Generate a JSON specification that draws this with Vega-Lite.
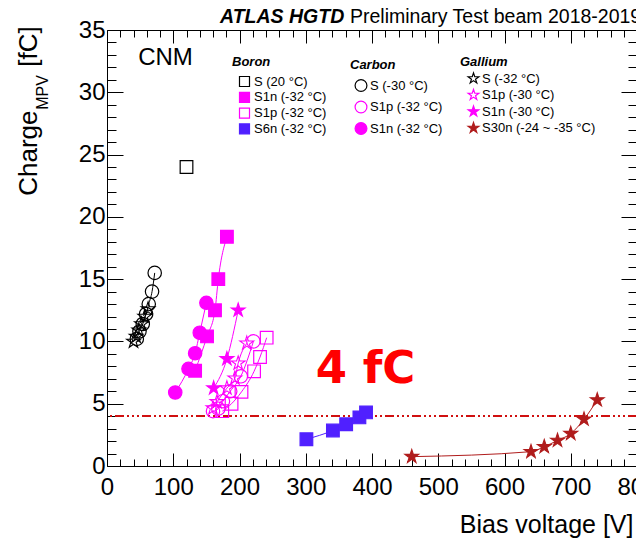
{
  "$schema": "https://vega.github.io/schema/vega-lite/v6.json",
  "width": 530,
  "height": 436,
  "autosize": "none",
  "padding": {"left": 107, "top": 30, "right": 0, "bottom": 73},
  "background": "white",
  "config": {
    "view": {"stroke": null},
    "font": "Liberation Sans",
    "axis": {"labelFont": "Liberation Sans", "titleFont": "Liberation Sans", "labelColor": "black", "titleColor": "black", "domainColor": "black", "tickColor": "black", "domainWidth": 1, "tickWidth": 1, "grid": false, "labelFlush": false, "labelOverlap": false},
    "legend": {"labelFont": "Liberation Sans", "labelFontSize": 13, "labelColor": "black", "titleFont": "Liberation Sans", "titleFontSize": 13, "titleFontStyle": "italic", "titleFontWeight": "bold", "titleColor": "black", "padding": 0, "labelLimit": 300, "symbolStrokeWidth": 1.2, "direction": "vertical"}
  },
  "datasets": {
    "pts": [
      {"mat": "Boron", "series": "S (20 °C)", "v": 120, "q": 24.0},
      {"mat": "Boron", "series": "S1n (-32 °C)", "v": 133, "q": 7.65},
      {"mat": "Boron", "series": "S1n (-32 °C)", "v": 151, "q": 10.4},
      {"mat": "Boron", "series": "S1n (-32 °C)", "v": 163, "q": 12.5},
      {"mat": "Boron", "series": "S1n (-32 °C)", "v": 168, "q": 15.0},
      {"mat": "Boron", "series": "S1n (-32 °C)", "v": 181, "q": 18.4},
      {"mat": "Boron", "series": "S1p (-32 °C)", "v": 174, "q": 4.4},
      {"mat": "Boron", "series": "S1p (-32 °C)", "v": 188, "q": 5.0},
      {"mat": "Boron", "series": "S1p (-32 °C)", "v": 203, "q": 5.95},
      {"mat": "Boron", "series": "S1p (-32 °C)", "v": 222, "q": 7.6},
      {"mat": "Boron", "series": "S1p (-32 °C)", "v": 231, "q": 8.75},
      {"mat": "Boron", "series": "S1p (-32 °C)", "v": 241, "q": 10.3},
      {"mat": "Boron", "series": "S6n (-32 °C)", "v": 301, "q": 2.15},
      {"mat": "Boron", "series": "S6n (-32 °C)", "v": 341, "q": 2.85},
      {"mat": "Boron", "series": "S6n (-32 °C)", "v": 361, "q": 3.35},
      {"mat": "Boron", "series": "S6n (-32 °C)", "v": 381, "q": 3.9},
      {"mat": "Boron", "series": "S6n (-32 °C)", "v": 391, "q": 4.3},
      {"mat": "Carbon", "series": "S (-30 °C)", "v": 45, "q": 10.2},
      {"mat": "Carbon", "series": "S (-30 °C)", "v": 49, "q": 10.8},
      {"mat": "Carbon", "series": "S (-30 °C)", "v": 54, "q": 11.4},
      {"mat": "Carbon", "series": "S (-30 °C)", "v": 59, "q": 12.2},
      {"mat": "Carbon", "series": "S (-30 °C)", "v": 63, "q": 13.0},
      {"mat": "Carbon", "series": "S (-30 °C)", "v": 68, "q": 14.0},
      {"mat": "Carbon", "series": "S (-30 °C)", "v": 72, "q": 15.5},
      {"mat": "Carbon", "series": "S1p (-32 °C)", "v": 160, "q": 4.4},
      {"mat": "Carbon", "series": "S1p (-32 °C)", "v": 168, "q": 4.6},
      {"mat": "Carbon", "series": "S1p (-32 °C)", "v": 175, "q": 5.2},
      {"mat": "Carbon", "series": "S1p (-32 °C)", "v": 186, "q": 6.0},
      {"mat": "Carbon", "series": "S1p (-32 °C)", "v": 202, "q": 7.2},
      {"mat": "Carbon", "series": "S1p (-32 °C)", "v": 221, "q": 10.0},
      {"mat": "Carbon", "series": "S1n (-32 °C)", "v": 103, "q": 5.9},
      {"mat": "Carbon", "series": "S1n (-32 °C)", "v": 123, "q": 7.8},
      {"mat": "Carbon", "series": "S1n (-32 °C)", "v": 133, "q": 9.05},
      {"mat": "Carbon", "series": "S1n (-32 °C)", "v": 140, "q": 10.7},
      {"mat": "Carbon", "series": "S1n (-32 °C)", "v": 150, "q": 13.1},
      {"mat": "Gallium", "series": "S (-32 °C)", "v": 40, "q": 10.0},
      {"mat": "Gallium", "series": "S (-32 °C)", "v": 44, "q": 10.4},
      {"mat": "Gallium", "series": "S (-32 °C)", "v": 48, "q": 10.9},
      {"mat": "Gallium", "series": "S (-32 °C)", "v": 52, "q": 11.4},
      {"mat": "Gallium", "series": "S (-32 °C)", "v": 57, "q": 12.0},
      {"mat": "Gallium", "series": "S (-32 °C)", "v": 62, "q": 12.6},
      {"mat": "Gallium", "series": "S1p (-30 °C)", "v": 160, "q": 4.65},
      {"mat": "Gallium", "series": "S1p (-30 °C)", "v": 166, "q": 5.15},
      {"mat": "Gallium", "series": "S1p (-30 °C)", "v": 181, "q": 6.25},
      {"mat": "Gallium", "series": "S1p (-30 °C)", "v": 193, "q": 7.05},
      {"mat": "Gallium", "series": "S1p (-30 °C)", "v": 198, "q": 8.25},
      {"mat": "Gallium", "series": "S1p (-30 °C)", "v": 211, "q": 9.85},
      {"mat": "Gallium", "series": "S1n (-30 °C)", "v": 161, "q": 6.25},
      {"mat": "Gallium", "series": "S1n (-30 °C)", "v": 181, "q": 8.6},
      {"mat": "Gallium", "series": "S1n (-30 °C)", "v": 198, "q": 12.5},
      {"mat": "Gallium", "series": "S30n (-24 ~ -35 °C)", "v": 460, "q": 0.75},
      {"mat": "Gallium", "series": "S30n (-24 ~ -35 °C)", "v": 640, "q": 1.15},
      {"mat": "Gallium", "series": "S30n (-24 ~ -35 °C)", "v": 660, "q": 1.55},
      {"mat": "Gallium", "series": "S30n (-24 ~ -35 °C)", "v": 680, "q": 2.05},
      {"mat": "Gallium", "series": "S30n (-24 ~ -35 °C)", "v": 700, "q": 2.6},
      {"mat": "Gallium", "series": "S30n (-24 ~ -35 °C)", "v": 720, "q": 3.75},
      {"mat": "Gallium", "series": "S30n (-24 ~ -35 °C)", "v": 740, "q": 5.3}
    ]
  },
  "layer": [
    {
      "data": {"name": "pts"},
      "mark": {"type": "point", "opacity": 0},
      "encoding": {
        "x": {"field": "v", "type": "quantitative", "scale": {"domain": [0, 800], "nice": false, "zero": false},
          "axis": {"orient": "bottom", "values": [0,20,40,60,80,100,120,140,160,180,200,220,240,260,280,300,320,340,360,380,400,420,440,460,480,500,520,540,560,580,600,620,640,660,680,700,720,740,760,780,800],
            "tickSize": {"condition": {"test": "datum.value % 100 === 0", "value": -13}, "value": -7},
            "labelExpr": "datum.value % 100 === 0 ? datum.label : ''", "labelPadding": 22, "labelFontSize": 24,
            "title": "Bias voltage [V]", "titleFontSize": 25, "titleFontWeight": "normal", "titleAnchor": "end", "titleAlign": "right", "titleBaseline": "alphabetic", "titleX": 526, "titleY": 66.6}},
        "y": {"field": "q", "type": "quantitative", "scale": {"domain": [0, 35], "nice": false, "zero": false},
          "axis": {"orient": "left", "values": [0,1,2,3,4,5,6,7,8,9,10,11,12,13,14,15,16,17,18,19,20,21,22,23,24,25,26,27,28,29,30,31,32,33,34,35],
            "tickSize": {"condition": {"test": "datum.value % 5 === 0", "value": -16}, "value": -9},
            "labelExpr": "datum.value % 5 === 0 ? datum.label : ''", "labelPadding": 18, "labelFontSize": 24, "title": null}}
      }
    },
    {
      "data": {"name": "pts"},
      "mark": {"type": "point", "opacity": 0},
      "encoding": {
        "x": {"field": "v", "type": "quantitative", "scale": {"domain": [0, 800], "nice": false, "zero": false},
          "axis": {"orient": "top", "values": [0,20,40,60,80,100,120,140,160,180,200,220,240,260,280,300,320,340,360,380,400,420,440,460,480,500,520,540,560,580,600,620,640,660,680,700,720,740,760,780,800],
            "tickSize": {"condition": {"test": "datum.value % 100 === 0", "value": -13}, "value": -7}, "labels": false, "title": null}},
        "y": {"field": "q", "type": "quantitative", "scale": {"domain": [0, 35], "nice": false, "zero": false},
          "axis": {"orient": "right", "values": [0,1,2,3,4,5,6,7,8,9,10,11,12,13,14,15,16,17,18,19,20,21,22,23,24,25,26,27,28,29,30,31,32,33,34,35],
            "tickSize": {"condition": {"test": "datum.value % 5 === 0", "value": -16}, "value": -9}, "labels": false, "title": null}}
      }
    },
    {
      "data": {"name": "pts"},
      "layer": [
        {
          "mark": {"type": "rule", "color": "#d01010", "strokeWidth": 1.3, "strokeDash": [9, 3, 2, 3, 2, 3, 2, 3]},
          "encoding": {"y": {"datum": 4, "type": "quantitative", "scale": {"domain": [0, 35], "nice": false, "zero": false}, "axis": null}}
        },
        {
          "mark": {"type": "line", "interpolate": "monotone", "strokeWidth": 1},
          "encoding": {
            "x": {"field": "v", "type": "quantitative", "scale": {"domain": [0, 800], "nice": false, "zero": false}, "axis": null},
            "y": {"field": "q", "type": "quantitative", "scale": {"domain": [0, 35], "nice": false, "zero": false}, "axis": null},
            "detail": {"field": "mat"},
            "stroke": {"field": "series", "legend": null, "scale": {
              "domain": ["S (20 °C)", "S1n (-32 °C)", "S1p (-32 °C)", "S6n (-32 °C)", "S (-30 °C)", "S (-32 °C)", "S1p (-30 °C)", "S1n (-30 °C)", "S30n (-24 ~ -35 °C)"],
              "range": ["black", "#ff00ff", "#ff00ff", "#5020ff", "black", "black", "#ff00ff", "#ff00ff", "#b01c1c"]}}
          }
        },
        {
          "transform": [{"filter": "datum.mat === 'Boron'"}],
          "mark": {"type": "point", "filled": true, "opacity": 1, "strokeWidth": 1.2, "size": 160},
          "encoding": {
            "x": {"field": "v", "type": "quantitative", "scale": {"domain": [0, 800], "nice": false, "zero": false}, "axis": null},
            "y": {"field": "q", "type": "quantitative", "scale": {"domain": [0, 35], "nice": false, "zero": false}, "axis": null},
            "shape": {"field": "series", "scale": {"domain": ["S (20 °C)", "S1n (-32 °C)", "S1p (-32 °C)", "S6n (-32 °C)"], "range": ["square", "square", "square", "square"]},
              "legend": {"title": "Boron", "orient": "none", "legendX": 125, "legendY": 26, "symbolSize": 100, "symbolOffset": 6, "labelOffset": 3, "rowPadding": 0.8, "titlePadding": 6}},
            "stroke": {"field": "series", "scale": {"domain": ["S (20 °C)", "S1n (-32 °C)", "S1p (-32 °C)", "S6n (-32 °C)"], "range": ["black", "#ff00ff", "#ff00ff", "#5020ff"]},
              "legend": {"title": "Boron", "orient": "none", "legendX": 125, "legendY": 26, "symbolSize": 100, "symbolOffset": 6, "labelOffset": 3, "rowPadding": 0.8, "titlePadding": 6}},
            "fill": {"field": "series", "scale": {"domain": ["S (20 °C)", "S1n (-32 °C)", "S1p (-32 °C)", "S6n (-32 °C)"], "range": ["transparent", "#ff00ff", "transparent", "#5020ff"]},
              "legend": {"title": "Boron", "orient": "none", "legendX": 125, "legendY": 26, "symbolSize": 100, "symbolOffset": 6, "labelOffset": 3, "rowPadding": 0.8, "titlePadding": 6}}
          }
        },
        {
          "transform": [{"filter": "datum.mat === 'Carbon'"}],
          "mark": {"type": "point", "filled": true, "opacity": 1, "strokeWidth": 1.2, "size": 180},
          "encoding": {
            "x": {"field": "v", "type": "quantitative", "scale": {"domain": [0, 800], "nice": false, "zero": false}, "axis": null},
            "y": {"field": "q", "type": "quantitative", "scale": {"domain": [0, 35], "nice": false, "zero": false}, "axis": null},
            "shape": {"field": "series", "scale": {"domain": ["S (-30 °C)", "S1p (-32 °C)", "S1n (-32 °C)"], "range": ["circle", "circle", "circle"]},
              "legend": {"title": "Carbon", "orient": "none", "legendX": 243, "legendY": 28.5, "symbolSize": 140, "symbolOffset": 4, "labelOffset": 2, "rowPadding": 3.5, "titlePadding": 7}},
            "stroke": {"field": "series", "scale": {"domain": ["S (-30 °C)", "S1p (-32 °C)", "S1n (-32 °C)"], "range": ["black", "#ff00ff", "#ff00ff"]},
              "legend": {"title": "Carbon", "orient": "none", "legendX": 243, "legendY": 28.5, "symbolSize": 140, "symbolOffset": 4, "labelOffset": 2, "rowPadding": 3.5, "titlePadding": 7}},
            "fill": {"field": "series", "scale": {"domain": ["S (-30 °C)", "S1p (-32 °C)", "S1n (-32 °C)"], "range": ["transparent", "transparent", "#ff00ff"]},
              "legend": {"title": "Carbon", "orient": "none", "legendX": 243, "legendY": 28.5, "symbolSize": 140, "symbolOffset": 4, "labelOffset": 2, "rowPadding": 3.5, "titlePadding": 7}}
          }
        },
        {
          "transform": [{"filter": "datum.mat === 'Gallium'"}],
          "mark": {"type": "point", "filled": true, "opacity": 1, "strokeWidth": 1.1, "size": 210},
          "encoding": {
            "x": {"field": "v", "type": "quantitative", "scale": {"domain": [0, 800], "nice": false, "zero": false}, "axis": null},
            "y": {"field": "q", "type": "quantitative", "scale": {"domain": [0, 35], "nice": false, "zero": false}, "axis": null},
            "shape": {"field": "series", "scale": {"domain": ["S (-32 °C)", "S1p (-30 °C)", "S1n (-30 °C)", "S30n (-24 ~ -35 °C)"], "range": [
              "M0,-1L0.2245,-0.309L0.9511,-0.309L0.3633,0.118L0.5878,0.809L0,0.382L-0.5878,0.809L-0.3633,0.118L-0.9511,-0.309L-0.2245,-0.309Z",
              "M0,-1L0.2245,-0.309L0.9511,-0.309L0.3633,0.118L0.5878,0.809L0,0.382L-0.5878,0.809L-0.3633,0.118L-0.9511,-0.309L-0.2245,-0.309Z",
              "M0,-1L0.2245,-0.309L0.9511,-0.309L0.3633,0.118L0.5878,0.809L0,0.382L-0.5878,0.809L-0.3633,0.118L-0.9511,-0.309L-0.2245,-0.309Z",
              "M0,-1L0.2245,-0.309L0.9511,-0.309L0.3633,0.118L0.5878,0.809L0,0.382L-0.5878,0.809L-0.3633,0.118L-0.9511,-0.309L-0.2245,-0.309Z"]},
              "legend": {"title": "Gallium", "orient": "none", "legendX": 353, "legendY": 26, "symbolSize": 125, "symbolOffset": 7, "labelOffset": 2, "rowPadding": 0.5, "titlePadding": 3}},
            "stroke": {"field": "series", "scale": {"domain": ["S (-32 °C)", "S1p (-30 °C)", "S1n (-30 °C)", "S30n (-24 ~ -35 °C)"], "range": ["black", "#ff00ff", "#ff00ff", "#b01c1c"]},
              "legend": {"title": "Gallium", "orient": "none", "legendX": 353, "legendY": 26, "symbolSize": 125, "symbolOffset": 7, "labelOffset": 2, "rowPadding": 0.5, "titlePadding": 3}},
            "fill": {"field": "series", "scale": {"domain": ["S (-32 °C)", "S1p (-30 °C)", "S1n (-30 °C)", "S30n (-24 ~ -35 °C)"], "range": ["transparent", "transparent", "#ff00ff", "#b01c1c"]},
              "legend": {"title": "Gallium", "orient": "none", "legendX": 353, "legendY": 26, "symbolSize": 125, "symbolOffset": 7, "labelOffset": 2, "rowPadding": 0.5, "titlePadding": 3}}
          }
        },
        {
          "data": {"values": [{}]},
          "mark": {"type": "text", "text": "CNM", "font": "Liberation Sans", "fontSize": 24, "align": "left", "baseline": "alphabetic", "color": "black"},
          "encoding": {
            "x": {"datum": 47, "type": "quantitative", "scale": {"domain": [0, 800], "nice": false, "zero": false}, "axis": null},
            "y": {"datum": 32.2, "type": "quantitative", "scale": {"domain": [0, 35], "nice": false, "zero": false}, "axis": null}
          }
        },
        {
          "data": {"values": [{}]},
          "mark": {"type": "text", "text": "4 fC", "font": "DejaVu Sans", "fontWeight": "bold", "fontSize": 45, "align": "left", "baseline": "alphabetic", "color": "#ff0000"},
          "encoding": {
            "x": {"datum": 315, "type": "quantitative", "scale": {"domain": [0, 800], "nice": false, "zero": false}, "axis": null},
            "y": {"datum": 6.67, "type": "quantitative", "scale": {"domain": [0, 35], "nice": false, "zero": false}, "axis": null}
          }
        },
        {
          "data": {"values": [{}]},
          "mark": {"type": "text", "text": "ATLAS HGTD", "font": "Liberation Sans", "fontWeight": "bold", "fontStyle": "italic", "fontSize": 19.5, "align": "left", "baseline": "alphabetic", "color": "black"},
          "encoding": {
            "x": {"datum": 170.6, "type": "quantitative", "scale": {"domain": [0, 800], "nice": false, "zero": false}, "axis": null},
            "y": {"datum": 35.58, "type": "quantitative", "scale": {"domain": [0, 35], "nice": false, "zero": false}, "axis": null}
          }
        },
        {
          "data": {"values": [{}]},
          "mark": {"type": "text", "text": "Preliminary Test beam 2018-2019", "font": "Liberation Sans", "fontSize": 19.5, "align": "left", "baseline": "alphabetic", "color": "black"},
          "encoding": {
            "x": {"datum": 366.8, "type": "quantitative", "scale": {"domain": [0, 800], "nice": false, "zero": false}, "axis": null},
            "y": {"datum": 35.58, "type": "quantitative", "scale": {"domain": [0, 35], "nice": false, "zero": false}, "axis": null}
          }
        },
        {
          "data": {"values": [{}]},
          "mark": {"type": "text", "text": "Charge", "font": "Liberation Sans", "fontSize": 26, "angle": 270, "align": "left", "baseline": "alphabetic", "color": "black"},
          "encoding": {
            "x": {"datum": -105.7, "type": "quantitative", "scale": {"domain": [0, 800], "nice": false, "zero": false}, "axis": null},
            "y": {"datum": 21.69, "type": "quantitative", "scale": {"domain": [0, 35], "nice": false, "zero": false}, "axis": null}
          }
        },
        {
          "data": {"values": [{}]},
          "mark": {"type": "text", "text": "MPV", "font": "Liberation Sans", "fontSize": 16, "angle": 270, "align": "left", "baseline": "alphabetic", "color": "black"},
          "encoding": {
            "x": {"datum": -89.5, "type": "quantitative", "scale": {"domain": [0, 800], "nice": false, "zero": false}, "axis": null},
            "y": {"datum": 28.59, "type": "quantitative", "scale": {"domain": [0, 35], "nice": false, "zero": false}, "axis": null}
          }
        },
        {
          "data": {"values": [{}]},
          "mark": {"type": "text", "text": "[fC]", "font": "Liberation Sans", "fontSize": 26, "angle": 270, "align": "left", "baseline": "alphabetic", "color": "black"},
          "encoding": {
            "x": {"datum": -105.7, "type": "quantitative", "scale": {"domain": [0, 800], "nice": false, "zero": false}, "axis": null},
            "y": {"datum": 32.05, "type": "quantitative", "scale": {"domain": [0, 35], "nice": false, "zero": false}, "axis": null}
          }
        }
      ],
      "resolve": {"scale": {"fill": "independent", "stroke": "independent", "shape": "independent"}}
    }
  ],
  "resolve": {"scale": {"x": "independent", "y": "independent"}}
}
